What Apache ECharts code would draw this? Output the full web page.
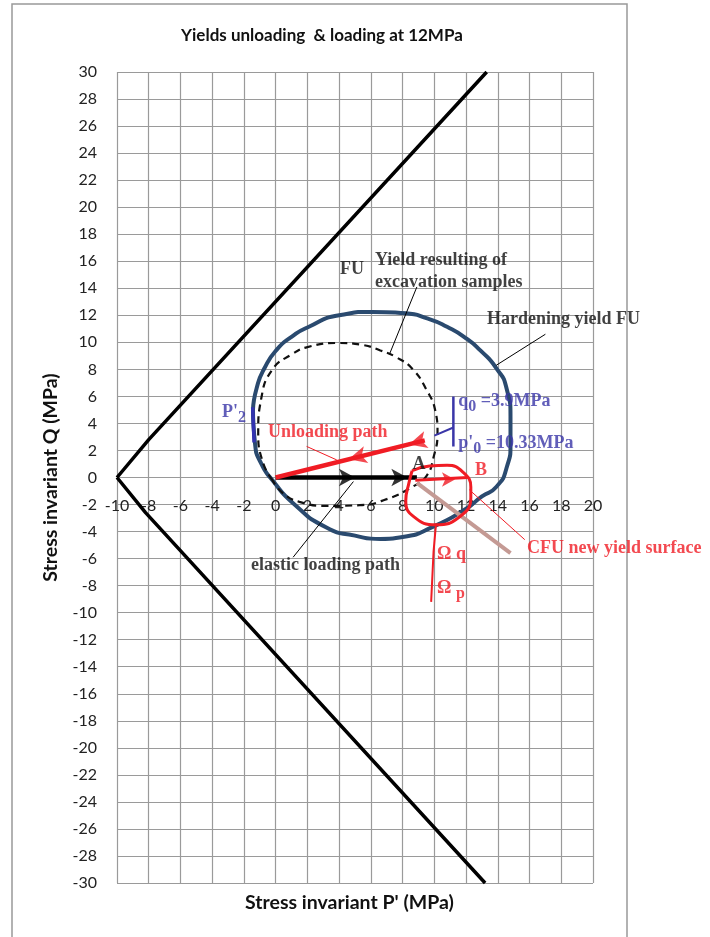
<!DOCTYPE html>
<html>
<head>
<meta charset="utf-8">
<script src="https://cdn.jsdelivr.net/npm/echarts@6/dist/echarts.min.js"></script>
<style>
  html, body { margin: 0; background: #fff; }
  #chart { width: 710px; height: 937px; }
</style>
</head>
<body>
<div id="chart"></div>
<script>
// axis ranges (MPa)
const pRange = [-10, 20];
const qRange = [-30, 30];
const tickStep = 2;

// FU cone (upper and lower arm)
const coneUpper = [[-10, 0], [-8, 2.8], [13.3, 30]];
const coneLower = [[-10, 0], [-8.2, -2.6], [13.2, -30]];

// hardening yield FU (closed curve)
const hardeningFU = [
  [-1.43, 5.0], [-1.2, 6.6], [-0.7, 8.1], [0.1, 9.5], [1.0, 10.4], [2.0, 11.1], [4.0, 12.0],
  [6.1, 12.25], [8.2, 12.15], [9.6, 11.75], [10.8, 11.15], [12.0, 10.3], [12.9, 9.4], [13.9, 8.1], [14.55, 6.6],
  [14.8, 4.5], [14.8, 2.5], [14.55, 0.7], [13.9, -0.7], [13.0, -1.4], [12.0, -2.3],
  [10.0, -3.6], [8.0, -4.4], [6.6, -4.55], [5.0, -4.3], [3.2, -3.7], [1.1, -1.9],
  [-0.2, -0.2], [-0.9, 1.0], [-1.3, 2.5], [-1.43, 5.0]
];
const p2Bracket = [[-1.36, 2.6], [-1.45, 5.2]];

// yield resulting of excavation samples (dashed)
const excavationYield = [
  [-0.2, -0.2], [-0.8, 1.1], [-1.1, 3.3], [-0.9, 5.9], [-0.2, 8.0], [1.0, 9.1], [2.0, 9.65],
  [4.0, 9.95], [5.5, 9.8], [6.6, 9.4], [7.6, 8.9], [8.65, 8.0], [9.5, 6.5], [10.05, 5.0],
  [10.2, 3.3], [9.95, 1.5], [9.5, 0.1], [8.6, -0.7], [7.0, -1.6], [5.3, -2.05],
  [3.2, -2.1], [1.5, -1.8], [0.45, -1.15], [-0.2, -0.2]
];

// stress paths
const elasticPath = [[0, 0], [8.9, 0]];
const elasticArrows = [[5.0, 0], [8.3, 0]];
const unloadingPath = [[0, 0], [9.4, 2.75]];
const unloadingArrows = [[4.6, 1.35], [8.4, 2.45]];
const pathAB = [[8.8, -0.2], [12.1, 0]];
const arrowAB = [[11.3, -0.15]];

// CFU new yield surface (red loop) and the plastic flow line
const cfuLoop = [
  [8.6, 0.5], [9.7, 0.85], [10.8, 0.9], [11.8, 0.4], [12.3, -0.7], [12.3, -1.5],
  [11.6, -2.9], [10.1, -3.5], [8.7, -2.9], [8.2, -1.7], [8.4, -0.4], [8.6, 0.5]
];
const flowLine = [[8.9, -0.4], [14.8, -5.6]];
const omegaLine = [[10.1, -3.5], [9.95, -5.5], [9.8, -9.2]];

// q0 / p'0 bracket
const q0Bracket = [[11.2, 2.3], [11.2, 6.0]];
const q0Tie = [[10.0, 3.1], [11.2, 3.7]];

// leader lines
const blackLeaders = [
  [[8.9, 14.1], [7.2, 9.2]],
  [[13.9, 8.3], [17.0, 10.6]],
  [[1.1, -5.9], [4.9, -0.3]]
];
const redLeaders = [
  [[1.95, 2.3], [3.85, 1.3]],
  [[12.2, -0.9], [15.7, -4.6]]
];

// annotations
const noteText = [
  'FU', 'Yield resulting of\nexcavation samples', 'Hardening yield FU', "P'{s|2}",
  'Unloading path', 'A', 'B', 'q{s|0} =3.9MPa', "p'{s|0} =10.33MPa",
  'CFU new yield surface', 'Ω q', 'Ω {s|p}', 'elastic loading path'
];
const noteAt = [
  [4.81, 15.37], [6.26, 15.26], [13.32, 11.67], [-3.38, 4.85],
  [-0.48, 3.37], [9.03, 1.0], [12.94, 0.56], [11.5, 5.67], [11.5, 2.56],
  [15.84, -5.22], [10.17, -5.67], [10.17, -8.19], [-1.55, -6.48]
];
const noteColor = ['#111', '#111', '#111', '#3a36a8', '#f01c24', '#111', '#f01c24',
  '#3a36a8', '#3a36a8', '#f01c24', '#f01c24', '#f01c24', '#111'];
const noteCentered = [true, false, false, false, false, true, true, false, false, false, false, false, false];

const chart = echarts.init(document.getElementById('chart'));

const lineSeries = (data, color, width, extra) => Object.assign({
  type: 'line',
  data,
  symbol: 'none',
  silent: true,
  clip: true,
  lineStyle: { color, width },
}, extra || {});

const arrowSeries = (data, color, rotate, size) => ({
  type: 'scatter',
  data,
  symbol: 'arrow',
  symbolSize: size,
  symbolRotate: rotate,
  itemStyle: { color },
  silent: true,
  z: 4,
});

const series = [
  lineSeries(coneUpper, '#000', 3.5),
  lineSeries(coneLower, '#000', 3.5),
  lineSeries(hardeningFU, '#2a4a6f', 4, { smooth: 0.6 }),
  lineSeries(p2Bracket, '#3333b0', 3.5),
  lineSeries(excavationYield, '#111', 2.2, {
    smooth: 0.5,
    lineStyle: { color: '#111', width: 2.2, type: [7, 5] },
  }),
  lineSeries(flowLine, '#c49a94', 4),
  lineSeries(elasticPath, '#000', 4.5),
  arrowSeries(elasticArrows, '#000', -90, [13, 16]),
  lineSeries(unloadingPath, '#f01c24', 4.5),
  arrowSeries(unloadingArrows, '#f01c24', 105, [13, 18]),
  lineSeries(cfuLoop, '#f01c24', 3, { smooth: 0.5 }),
  lineSeries(pathAB, '#f01c24', 3),
  arrowSeries(arrowAB, '#f01c24', -90, [11, 13]),
  lineSeries(omegaLine, '#f01c24', 2),
  lineSeries(q0Bracket, '#3a36a8', 2.5),
  lineSeries(q0Tie, '#3a36a8', 2),
];
blackLeaders.forEach((d) => series.push(lineSeries(d, '#000', 1)));
redLeaders.forEach((d) => series.push(lineSeries(d, '#f01c24', 1)));

// text annotations anchored in data space
series.push({
  type: 'scatter',
  symbolSize: 0,
  silent: true,
  z: 6,
  data: noteAt.map((p, i) => ({
    value: p,
    label: {
      show: true,
      position: noteCentered[i] ? 'inside' : 'right',
      distance: 0,
      formatter: noteText[i],
      color: noteColor[i],
      fontFamily: 'Liberation Serif',
      fontWeight: 'bold',
      fontSize: 18,
      lineHeight: 22,
      align: noteCentered[i] ? 'center' : 'left',
      rich: {
        s: { color: noteColor[i], fontFamily: 'Liberation Serif', fontWeight: 'bold', fontSize: 16, padding: [12, 0, 0, 0] },
      },
    },
  })),
});

const gridColor = '#9a9a9a';
const tickFont = { fontFamily: 'Lato', fontSize: 16, color: '#222' };
const nameFont = { fontFamily: 'Lato', fontWeight: 'bold', fontSize: 19.5, color: '#111' };
const gridTop = 72;
const gridHeight = 811;

chart.setOption({
  animation: false,
  title: [
    {
      text: 'Yields unloading  & loading at 12MPa',
      left: 176,
      top: 22,
      textStyle: { fontFamily: 'Lato', fontWeight: 'bold', fontSize: 17, color: '#111' },
    },
    {
      text: "Stress invariant P' (MPa)",
      left: 240,
      top: 888,
      textStyle: nameFont,
    },
  ],
  grid: { left: 117, top: gridTop, width: 476, height: gridHeight },
  xAxis: {
    type: 'value',
    min: pRange[0],
    max: pRange[1],
    interval: tickStep,
    // tick labels sit on the Q = 0 line
    offset: -gridHeight * qRange[0] / (qRange[0] - qRange[1]),
    axisLine: { show: false, onZero: false },
    axisTick: { show: false },
    axisLabel: Object.assign({ margin: 20 }, tickFont),
    splitLine: { show: true, lineStyle: { color: gridColor, width: 1.2 } },
  },
  yAxis: {
    type: 'value',
    min: qRange[0],
    max: qRange[1],
    interval: tickStep,
    axisLine: { show: false, onZero: false },
    axisTick: { show: false },
    axisLabel: Object.assign({ margin: 20 }, tickFont),
    splitLine: { show: true, lineStyle: { color: gridColor, width: 1.2 } },
    name: 'Stress invariant Q (MPa)',
    nameLocation: 'middle',
    nameGap: 56,
    nameTextStyle: nameFont,
  },
  graphic: [{
    type: 'rect',
    shape: { x: 12, y: 4, width: 615, height: 960 },
    style: { fill: 'none', stroke: '#999', lineWidth: 1.5 },
    silent: true,
  }],
  series,
});

new ResizeObserver(() => chart.resize()).observe(document.getElementById('chart'));
</script>
</body>
</html>
